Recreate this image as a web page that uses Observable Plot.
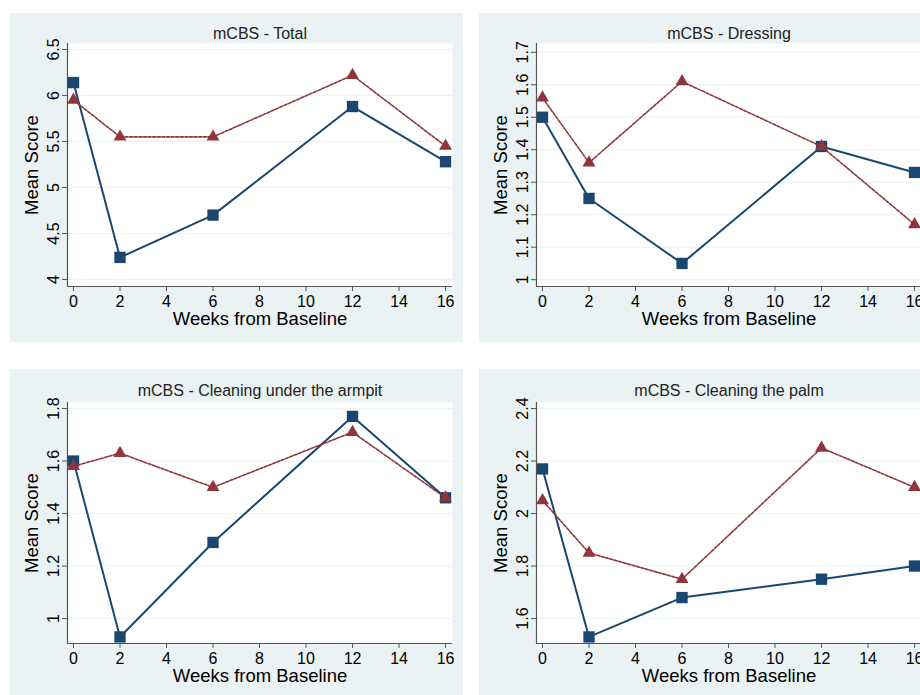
<!DOCTYPE html>
<html><head><meta charset="utf-8">
<script src="https://cdn.jsdelivr.net/npm/d3@7"></script>
<script src="https://cdn.jsdelivr.net/npm/@observablehq/plot@0.6"></script>
<style>
html,body{margin:0;padding:0;background:#fff;}
body{width:920px;height:695px;overflow:hidden;position:relative;font-family:"Liberation Sans",Arial,sans-serif;}
.panel{position:absolute;width:453px;height:329px;}
.panel svg{display:block;max-width:none !important;width:453px;height:329px;}
</style></head><body>
<script>
const weeks = [0, 2, 6, 12, 16];
const xTicks = [0, 2, 4, 6, 8, 10, 12, 14, 16];
const xLabel = "Weeks from Baseline";
const yLabel = "Mean Score";
const titles = ["mCBS - Total", "mCBS - Dressing", "mCBS - Cleaning under the armpit", "mCBS - Cleaning the palm"];

const totalBlue = [6.14, 4.24, 4.70, 5.88, 5.28];
const totalRed = [5.95, 5.55, 5.55, 6.22, 5.45];
const dressingBlue = [1.50, 1.25, 1.05, 1.41, 1.33];
const dressingRed = [1.56, 1.36, 1.61, 1.41, 1.17];
const armpitBlue = [1.60, 0.93, 1.29, 1.77, 1.46];
const armpitRed = [1.58, 1.63, 1.50, 1.71, 1.46];
const palmBlue = [2.17, 1.53, 1.68, 1.75, 1.80];
const palmRed = [2.05, 1.85, 1.75, 2.25, 2.10];

const totalTicks = [4, 4.5, 5, 5.5, 6, 6.5];
const dressingTicks = [1, 1.1, 1.2, 1.3, 1.4, 1.5, 1.6, 1.7];
const armpitTicks = [1, 1.2, 1.4, 1.6, 1.8];
const palmTicks = [1.6, 1.8, 2, 2.2, 2.4];

const BLUE = "#1a476f", RED = "#90353b", BG = "#eaf2f3", AXIS = "#555";
const xDomain = [-0.258, 16.30];

const panels = [
  {title: titles[0], blue: totalBlue, red: totalRed, ticks: totalTicks, domain: [3.924, 6.565], left: 10, top: 13, mt: 30, ph: 243, tdy: -10},
  {title: titles[1], blue: dressingBlue, red: dressingRed, ticks: dressingTicks, domain: [0.979, 1.727], left: 479, top: 13, mt: 30, ph: 243, tdy: -10},
  {title: titles[2], blue: armpitBlue, red: armpitRed, ticks: armpitTicks, domain: [0.905, 1.823], left: 10, top: 369, mt: 33, ph: 241, tdy: -12},
  {title: titles[3], blue: palmBlue, red: palmRed, ticks: palmTicks, domain: [1.505, 2.423], left: 479, top: 369, mt: 33, ph: 241, tdy: -12}
];

function makePanel(p) {
  const data = weeks.map((w, i) => ({w, blue: p.blue[i], red: p.red[i]}));
  const H = 329;
  return Plot.plot({
    width: 453, height: H,
    marginLeft: 57, marginRight: 11, marginTop: p.mt, marginBottom: H - p.mt - p.ph,
    x: {domain: xDomain},
    y: {domain: p.domain},
    style: {background: BG, fontFamily: "'Liberation Sans', Arial, sans-serif", color: "#000", overflow: "visible"},
    marks: [
      Plot.frame({fill: "white", stroke: "none"}),
      Plot.gridY(p.ticks, {stroke: BG, strokeOpacity: 1, strokeWidth: 1}),
      Plot.ruleX([xDomain[0]], {stroke: AXIS, strokeWidth: 1.2}),
      Plot.ruleY([p.domain[0]], {stroke: AXIS, strokeWidth: 1.2}),
      Plot.axisX(xTicks, {tickSize: 5, tickPadding: 4, fontSize: 16, stroke: AXIS, label: null, tickFormat: d => String(d)}),
      Plot.axisY(p.ticks, {tickSize: 5, tickPadding: 4, tickRotate: -90, fontSize: 16, stroke: AXIS, label: null, tickFormat: d => String(d)}),
      Plot.line(data, {x: "w", y: "blue", stroke: BLUE, strokeWidth: 2}),
      Plot.dot(data, {x: "w", y: "blue", symbol: "square", r: 6.4, fill: BLUE, stroke: "none"}),
      Plot.line(data, {x: "w", y: "red", stroke: RED, strokeWidth: 1.6, strokeDasharray: "3,1.6"}),
      Plot.dot(data, {x: "w", y: "red", symbol: "triangle", r: 4.8, fill: RED, stroke: "none"}),
      Plot.text([p.title], {frameAnchor: "top", lineAnchor: "middle", dy: p.tdy, fontSize: 16, fill: "#222"}),
      Plot.text([xLabel], {frameAnchor: "bottom", lineAnchor: "middle", dy: 33, fontSize: 18.5, fill: "#000"}),
      Plot.text([yLabel], {frameAnchor: "left", textAnchor: "middle", lineAnchor: "middle", dx: -35, rotate: -90, fontSize: 18.5, fill: "#000"})
    ]
  });
}

for (const p of panels) {
  const div = document.createElement("div");
  div.className = "panel";
  div.style.left = p.left + "px";
  div.style.top = p.top + "px";
  div.appendChild(makePanel(p));
  document.body.appendChild(div);
}
</script>
</body></html>
